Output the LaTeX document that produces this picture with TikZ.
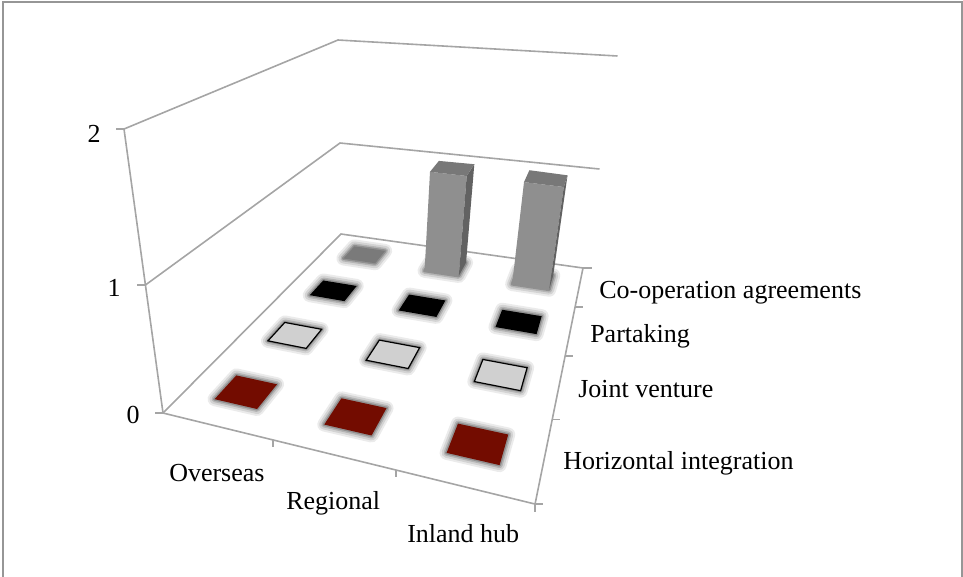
\documentclass[tikz,border=0pt]{standalone}
\usepackage{fontspec}
\setmainfont{Liberation Serif}
\definecolor{axisgray}{RGB}{165,165,165}
\definecolor{framegray}{RGB}{150,150,150}
\definecolor{sqred}{RGB}{115,12,0}
\definecolor{sqlight}{RGB}{208,208,208}
\definecolor{sqgray}{RGB}{122,122,122}
\definecolor{barfront}{RGB}{143,143,143}
\definecolor{bartop}{RGB}{120,120,120}
\definecolor{barside}{RGB}{98,98,98}
% projective map of the floor: (u,v) in unit square -> pixel position
\newcommand\floorpt[3]{\coordinate (#1) at ({(182.70*(#2)-237.10*(#3)+341)/(1-0.10171*(#2)-0.36259*(#3))},{(6.74*(#2)+29.25*(#3)+234)/(1-0.10171*(#2)-0.36259*(#3))});}
\newcommand\cellsq[3]{%
  \pgfmathsetmacro\sqU{(#2-0.5)/3}%
  \pgfmathsetmacro\sqV{(#3-0.5)/4}%
  \floorpt{#1-a}{\sqU-0.0667}{\sqV-0.047}%
  \floorpt{#1-b}{\sqU+0.0667}{\sqV-0.047}%
  \floorpt{#1-c}{\sqU+0.0667}{\sqV+0.047}%
  \floorpt{#1-d}{\sqU-0.0667}{\sqV+0.047}%
}
\newcommand\myhalo[1]{%
  \foreach \hw/\ho in {14/0.08,10/0.10,6/0.15,3/0.2}{%
    \draw[line width=\hw*0.75pt, line join=round, black, draw opacity=\ho] (#1-a)--(#1-b)--(#1-c)--(#1-d)--cycle;}%
}
\begin{document}
\begin{tikzpicture}[x=0.75pt,y=-0.75pt,
  axis/.style={draw=axisgray, line width=1.2pt},
  lbl/.style={inner sep=0pt, font=\fontsize{19.5}{23}\selectfont, text=black},
  sqfill/.style={fill=#1},
  lightsq/.style={fill=sqlight, draw=black, line width=0.9pt, line join=miter}]
\useasboundingbox (0,0) rectangle (963,576);
% frame
\draw[framegray, line width=1.6pt] (2.8,580) -- (2.8,1.9) -- (961.9,1.9) -- (961.9,580);

% floor corners and wall points
\floorpt{fBL}{0}{0}
\floorpt{fBR}{1}{0}
\floorpt{fFR}{1}{1}
\floorpt{fFL}{0}{1}
\coordinate (z2) at (124,129);
\coordinate (z1) at (145.4,285);
\coordinate (w2) at (338,40);
\coordinate (w1) at (340,143);
\coordinate (r2) at (617.5,56);
\coordinate (r1) at (599.5,169);

% gridlines / walls
\draw[axis] (z2)--(w2)--(r2);
\draw[axis] (z1)--(w1)--(r1);
\draw[axis] (fFL)--(fBL)--(fBR);
% axes
\draw[axis] (z2)--(fFL)--(fFR)--(fBR);
% vertical axis ticks
\draw[axis] (z2)--+(-8,0);
\draw[axis] (z1)--+(-8,0);
\draw[axis] (fFL)--+(-8,0);
% category axis ticks
\floorpt{t1}{1/3}{1}
\floorpt{t2}{2/3}{1}
\draw[axis] (t1)--+(0,7);
\draw[axis] (t2)--+(0,7);
\draw[axis] (fFR)--+(0,8);
% series axis ticks
\floorpt{s1}{1}{0.25}
\floorpt{s2}{1}{0.5}
\floorpt{s3}{1}{0.75}
\draw[axis] (fBR)--+(9,0);
\draw[axis] (s1)--+(8,0);
\draw[axis] (s2)--+(8,0);
\draw[axis] (s3)--+(8,0);
\draw[axis] (fFR)--+(8,0);

% row 1: Co-operation agreements
\cellsq{q11}{1}{1}
\myhalo{q11}
\fill[sqgray] (q11-a)--(q11-b)--(q11-c)--(q11-d)--cycle;

% bars (value 1) at Regional and Inland hub
\cellsq{q21}{2}{1}
\cellsq{q31}{3}{1}
\myhalo{q21}
\myhalo{q31}
\coordinate (b1tl) at (430.0,171.8);
\coordinate (b1tr) at (466.7,176.0);
\coordinate (b1tbr) at (474.3,164.2);
\coordinate (b1tbl) at (438.9,160.9);
\fill[barfront] (q21-d)--(q21-c)--(b1tr)--(b1tl)--cycle;
\fill[barside] (q21-c)--(q21-b)--(b1tbr)--(b1tr)--cycle;
\fill[bartop] (b1tl)--(b1tr)--(b1tbr)--(b1tbl)--cycle;
\coordinate (b2tl) at (524.0,182.1);
\coordinate (b2tr) at (563.8,187.0);
\coordinate (b2tbr) at (567.5,175.3);
\coordinate (b2tbl) at (529.4,170.2);
\fill[barfront] (q31-d)--(q31-c)--(b2tr)--(b2tl)--cycle;
\fill[barside] (q31-c)--(q31-b)--(b2tbr)--(b2tr)--cycle;
\fill[bartop] (b2tl)--(b2tr)--(b2tbr)--(b2tbl)--cycle;

% row 2: Partaking
\foreach \c in {1,2,3}{
  \cellsq{q\c2}{\c}{2}
  \myhalo{q\c2}
  \fill[black] (q\c2-a)--(q\c2-b)--(q\c2-c)--(q\c2-d)--cycle;
}
% row 3: Joint venture
\foreach \c in {1,2,3}{
  \cellsq{q\c3}{\c}{3}
  \myhalo{q\c3}
  \filldraw[lightsq] (q\c3-a)--(q\c3-b)--(q\c3-c)--(q\c3-d)--cycle;
}
% row 4: Horizontal integration
\foreach \c in {1,2,3}{
  \cellsq{q\c4}{\c}{4}
  \myhalo{q\c4}
  \fill[sqred] (q\c4-a)--(q\c4-b)--(q\c4-c)--(q\c4-d)--cycle;
}

% value labels
\node[lbl, anchor=base east] (v2) at (101,142) {2};
\node[lbl, anchor=base east] (v1) at (121,296) {1};
\node[lbl, anchor=base east] (v0) at (140,423) {0};
% category labels
\node[lbl, anchor=base west] (cOver) at (169,481.5) {Overseas};
\node[lbl, anchor=base west] (cReg) at (286,509) {Regional};
\node[lbl, anchor=base west] (cInl) at (407,542) {Inland hub};
% series labels
\node[lbl, anchor=base west] (sCoop) at (599,298) {Co-operation agreements};
\node[lbl, anchor=base west] (sPart) at (590,342) {Partaking};
\node[lbl, anchor=base west] (sJoint) at (578,397) {Joint venture};
\node[lbl, anchor=base west] (sHor) at (563,469) {Horizontal integration};
\end{tikzpicture}
\end{document}
